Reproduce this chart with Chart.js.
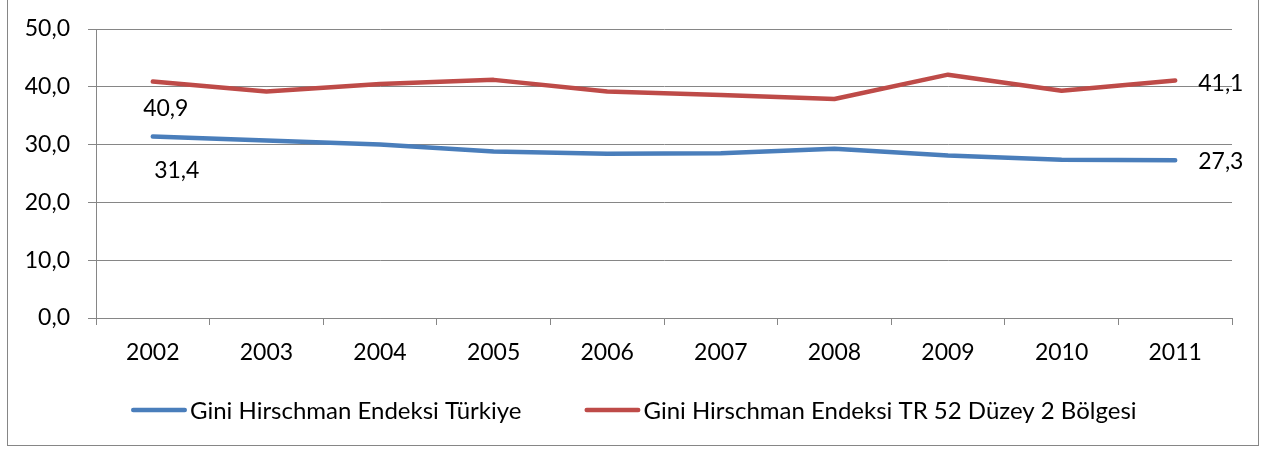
<!DOCTYPE html>
<html>
<head>
<meta charset="utf-8">
<script src="https://cdn.jsdelivr.net/npm/chart.js@4/dist/chart.umd.min.js"></script>
<style>
  html, body { margin: 0; padding: 0; background: #fff; }
  #wrap { position: relative; width: 1279px; height: 454px; }
  #frame {
    position: absolute; left: 7px; top: -1px; width: 1252px; height: 447px;
    border: 1px solid #868686; box-sizing: border-box; pointer-events: none;
  }
  canvas { position: absolute; left: 0; top: 0; }
</style>
</head>
<body>
<div id="wrap">
  <canvas id="chart" width="1279" height="454"></canvas>
  <div id="frame"></div>
</div>
<script>
const years = ['2002', '2003', '2004', '2005', '2006', '2007', '2008', '2009', '2010', '2011'];
const turkiye = [31.4, 30.7, 30.0, 28.8, 28.4, 28.5, 29.3, 28.1, 27.4, 27.3];
const tr52 = [40.9, 39.2, 40.5, 41.2, 39.2, 38.6, 37.9, 42.1, 39.3, 41.1];
const seriesNames = ['Gini Hirschman Endeksi Türkiye', 'Gini Hirschman Endeksi TR 52 Düzey 2 Bölgesi'];
const yTicks = [0, 10, 20, 30, 40, 50];

const FONT = 'Lato';
const GREY = '#868686';

const fmt = (v) => v.toFixed(1).replace('.', ',');

// only the first and last points carry a value label, placed as in the original
const labelSpots = [
  { ds: 1, i: 0, dx: 13, dy: 27, align: 'center' },
  { ds: 0, i: 0, dx: 24, dy: 34, align: 'center' },
  { ds: 1, i: 9, dx: 23, dy: 3, align: 'left' },
  { ds: 0, i: 9, dx: 23, dy: 1, align: 'left' },
];

const valueLabels = {
  id: 'valueLabels',
  afterDatasetsDraw(chart) {
    const { ctx } = chart;
    ctx.save();
    ctx.font = `23px ${FONT}`;
    ctx.fillStyle = '#000';
    ctx.textBaseline = 'middle';
    labelSpots.forEach((s) => {
      const pt = chart.getDatasetMeta(s.ds).data[s.i];
      const v = chart.data.datasets[s.ds].data[s.i];
      ctx.textAlign = s.align;
      ctx.fillText(fmt(v), pt.x + s.dx, pt.y + s.dy);
    });
    ctx.restore();
  },
};

// Excel style legend: long line sample, text nearly touching it, wide gap between entries
const lineLegend = {
  id: 'lineLegend',
  afterDraw(chart) {
    const { ctx } = chart;
    const sample = 56;
    const textGap = 3;
    const itemGap = 63;
    const y = 410;
    let x = 131;
    ctx.save();
    ctx.font = `24px ${FONT}`;
    ctx.textBaseline = 'middle';
    ctx.textAlign = 'left';
    chart.data.datasets.forEach((ds) => {
      const cap = ds.borderWidth / 2;
      ctx.strokeStyle = ds.borderColor;
      ctx.lineWidth = ds.borderWidth;
      ctx.lineCap = 'round';
      ctx.beginPath();
      ctx.moveTo(x + cap, y);
      ctx.lineTo(x + sample - cap, y);
      ctx.stroke();
      ctx.fillStyle = '#000';
      ctx.fillText(ds.label, x + sample + textGap, y + 1);
      x += sample + textGap + ctx.measureText(ds.label).width + itemGap;
    });
    ctx.restore();
  },
};

const line = (label, data, color) => ({
  label,
  data,
  borderColor: color,
  backgroundColor: color,
  borderWidth: 4.5,
  borderCapStyle: 'round',
  borderJoinStyle: 'round',
  pointRadius: 0,
  tension: 0,
});

new Chart(document.getElementById('chart'), {
  type: 'line',
  data: {
    labels: years,
    datasets: [
      line(seriesNames[0], turkiye, '#4A7EBB'),
      line(seriesNames[1], tr52, '#BE4B48'),
    ],
  },
  options: {
    responsive: false,
    devicePixelRatio: 1,
    animation: false,
    layout: { padding: { top: 29, left: 0, right: 0, bottom: 80 } },
    plugins: {
      tooltip: { enabled: false },
      legend: { display: false },
    },
    scales: {
      x: {
        offset: true,
        grid: { offset: true, drawOnChartArea: false, color: GREY, tickLength: 7 },
        border: { color: GREY },
        ticks: { color: '#000', padding: 14, font: { family: FONT, size: 23 }, maxRotation: 0 },
        afterFit: (s) => { s.height = 56; },
      },
      y: {
        min: 0,
        max: 50,
        afterBuildTicks: (s) => { s.ticks = yTicks.map((value) => ({ value })); },
        grid: { color: GREY, tickLength: 8 },
        border: { color: GREY },
        ticks: { color: '#000', padding: 18, font: { family: FONT, size: 23 }, callback: (v) => fmt(v) },
        // fixed width, and no extra room asked for the top label
        afterFit: (s) => {
          s.width = 96;
          s.paddingTop = 0;
          s.paddingBottom = 0;
        },
      },
      // empty right-hand axis, only to keep the plot clear of the right frame
      yRight: {
        position: 'right',
        grid: { display: false },
        border: { display: false },
        ticks: { display: false },
        afterFit: (s) => { s.width = 47; },
      },
    },
  },
  plugins: [valueLabels, lineLegend],
});
</script>
</body>
</html>
